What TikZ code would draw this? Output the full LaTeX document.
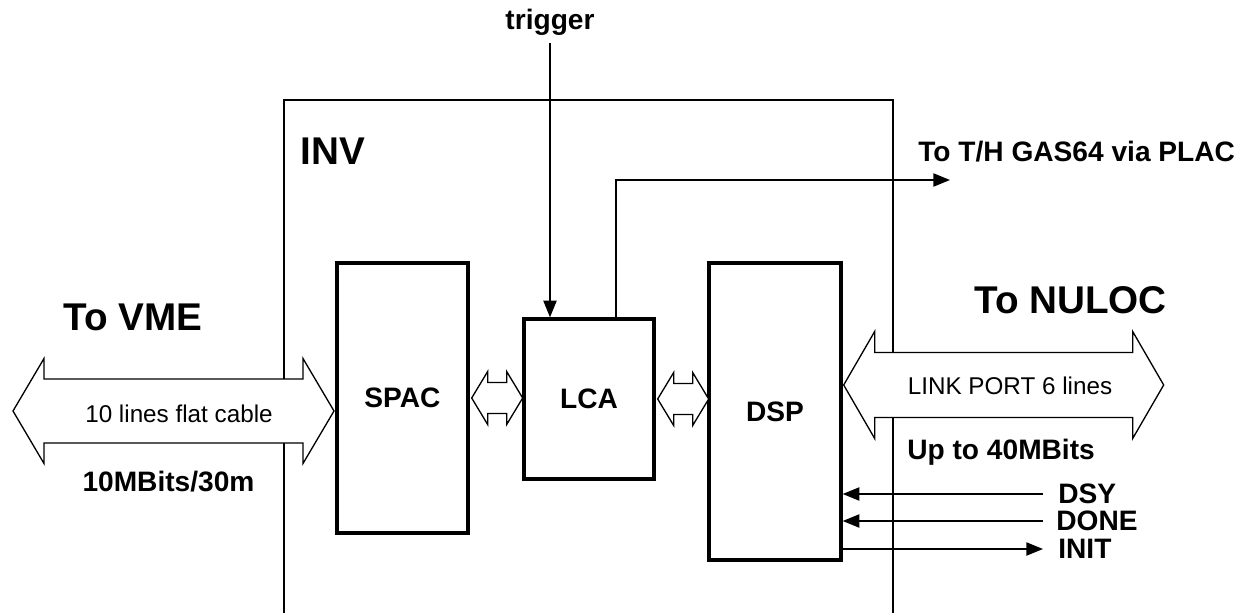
\documentclass[tikz,border=0pt]{standalone}
\usepackage{fontspec}
\setmainfont{Liberation Sans}
\usetikzlibrary{arrows.meta, calc, positioning}

\begin{document}
\begin{tikzpicture}[
    blk/.style={draw, line width=1.9pt, inner sep=0pt,
                font=\fontsize{16}{19}\selectfont\bfseries},
    bigtxt/.style={font=\fontsize{22}{26}\selectfont\bfseries, inner sep=0pt},
    midtxt/.style={font=\fontsize{16}{19}\selectfont\bfseries, inner sep=0pt},
    bustxt/.style={font=\fontsize{13.8}{16}\selectfont, inner sep=0pt},
    sig/.style={-{Triangle[length=9.5pt, width=7.5pt]}, line width=0.95pt},
    bus/.style={draw, fill=white, line width=0.75pt, line join=miter},
    pics/busarrow/.style n args={4}{code={
        \path[bus] (0,0) -- (#4,#3) -- (#4,#2) -- ({#1-#4},#2) -- ({#1-#4},#3)
            -- (#1,0) -- ({#1-#4},-#3) -- ({#1-#4},-#2) -- (#4,-#2)
            -- (#4,-#3) -- cycle;
    }},
]

\path[use as bounding box] (0,0) rectangle (25.18,12.26);

% ════════════════════════════════════════════════════════
% 0. INV FRAME (open at the bottom)
% ════════════════════════════════════════════════════════
\draw[line width=1.5pt] (5.68,0) -- (5.68,10.26) -- (17.86,10.26) -- (17.86,0);
\node[bigtxt, anchor=base west] (inv) at (6.0,8.96) {INV};

% ════════════════════════════════════════════════════════
% 1. BLOCKS
% ════════════════════════════════════════════════════════
\node[blk, minimum width=2.62cm, minimum height=5.4cm]  (spac) at (8.05,4.30)  {SPAC};
\node[blk, minimum width=2.6cm,  minimum height=3.2cm]  (lca)  at (11.78,4.28) {LCA};
\node[blk, minimum width=2.64cm, minimum height=5.94cm] (dsp)  at (15.5,4.03)  {DSP};

% Internal buses
\pic at ($(spac.east)+(0.04,0)$) {busarrow={1.02}{0.31}{0.53}{0.32}};
\pic at ($(lca.east)+(0.04,0)$)  {busarrow={1.02}{0.31}{0.53}{0.32}};

% ════════════════════════════════════════════════════════
% 2. TRIGGER AND T/H OUTPUT
% ════════════════════════════════════════════════════════
\node[midtxt, anchor=base] (trig) at (11.0,11.66) {trigger};
\draw[sig] ([yshift=-0.14cm]trig.south) -- (trig.south |- lca.north);

\coordinate (thend) at (19.0,8.66);
\draw[sig] ([xshift=0.54cm]lca.north) |- (thend);
\node[midtxt, anchor=base west] (th) at (18.36,9.02) {To T/H GAS64 via PLAC};

% ════════════════════════════════════════════════════════
% 3. VME LINK (LEFT SIDE)
% ════════════════════════════════════════════════════════
\pic at (0.26,4.04) {busarrow={6.42}{0.64}{1.05}{0.62}};
\node[bustxt] (flat) at (3.58,3.98) {10 lines flat cable};
\node[bigtxt, anchor=base] (vme)   at (2.66,5.66) {To VME};
\node[midtxt, anchor=base] (rate1) at (3.37,2.44) {10MBits/30m};

% ════════════════════════════════════════════════════════
% 4. NULOC LINK AND CONTROL LINES (RIGHT SIDE)
% ════════════════════════════════════════════════════════
\pic at ($(dsp.east)+(0.02,0.53)$) {busarrow={6.40}{0.65}{1.07}{0.62}};
\node[bustxt, anchor=base] (link)  at (20.2,4.38) {LINK PORT 6 lines};
\node[bigtxt, anchor=base] (nuloc) at (21.41,6.0) {To NULOC};
\node[midtxt, anchor=base west] (rate2) at (18.14,3.07) {Up to 40MBits};

\node[midtxt, anchor=west] (dsy)  at (21.16,2.38) {DSY};
\node[midtxt, anchor=west] (done) at (21.12,1.84) {DONE};
\node[midtxt, anchor=west] (init) at (21.16,1.28) {INIT};

\draw[sig] ([xshift=-0.30cm]dsy.west)  -- (dsy.west -| dsp.east);
\draw[sig] ([xshift=-0.26cm]done.west) -- (done.west -| dsp.east);
\draw[sig] (init.west -| dsp.east) -- ([xshift=-0.30cm]init.west);

\end{tikzpicture}
\end{document}
